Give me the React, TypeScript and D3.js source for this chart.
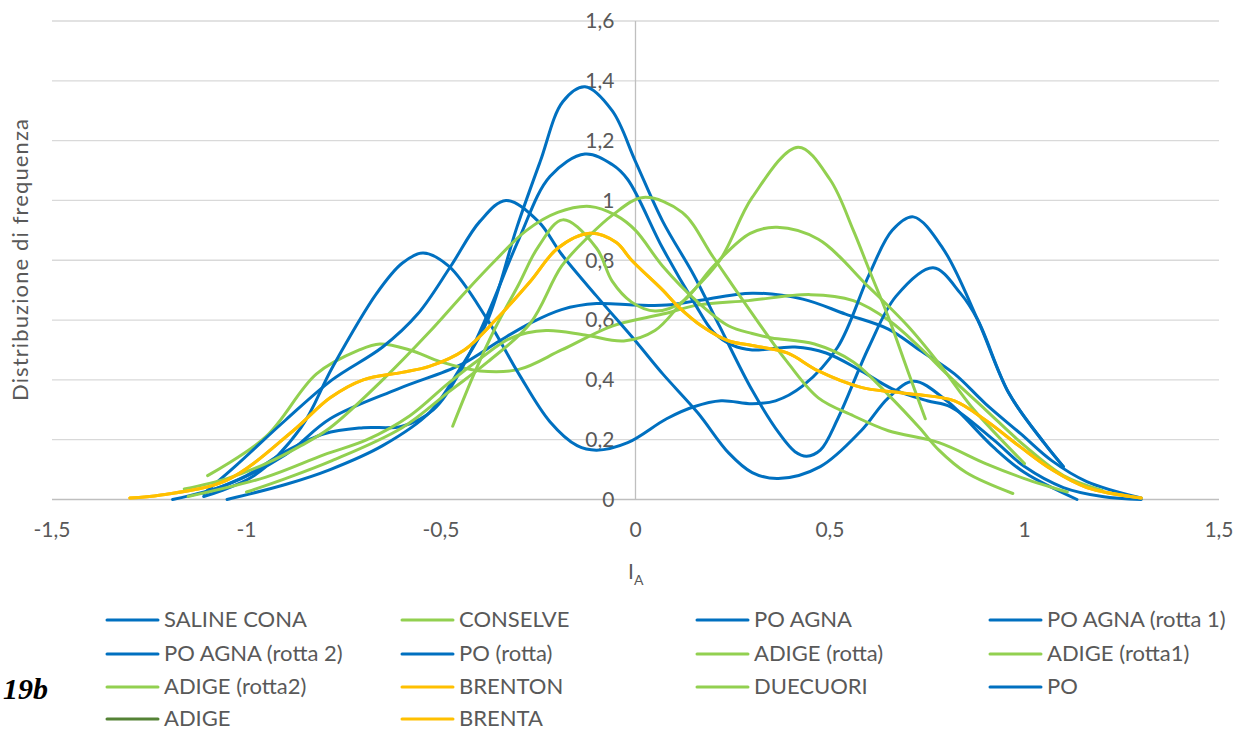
import { useEffect } from "react"
import * as d3 from "d3"

// [I_A, frequency] pairs
const salineCona: [number, number][] = [
  [-1.19, 0.0], [-1.05, 0.05], [-0.9, 0.15], [-0.785, 0.27], [-0.61, 0.37], [-0.45, 0.45], [-0.35, 0.53],
  [-0.27, 0.59], [-0.19, 0.635], [-0.1, 0.655], [0.0, 0.65], [0.08, 0.65], [0.16, 0.665], [0.3, 0.69],
  [0.43, 0.67], [0.54, 0.62], [0.65, 0.57], [0.73, 0.5], [0.82, 0.42], [0.9, 0.32], [0.99, 0.22],
  [1.07, 0.13], [1.16, 0.06], [1.3, 0.005],
]
const conselve: [number, number][] = [
  [-1.1, 0.08], [-0.95, 0.21], [-0.82, 0.42], [-0.71, 0.5], [-0.657, 0.52], [-0.58, 0.5], [-0.5, 0.46],
  [-0.4, 0.43], [-0.3, 0.435], [-0.19, 0.5], [-0.06, 0.58], [0.07, 0.62], [0.16, 0.65], [0.29, 0.665],
  [0.45, 0.685], [0.56, 0.665], [0.65, 0.6], [0.73, 0.51], [0.8, 0.42], [0.9, 0.3], [1.0, 0.18],
  [1.1, 0.08], [1.2, 0.03],
]
const poAgna: [number, number][] = [
  [-1.05, 0.0], [-0.9, 0.05], [-0.785, 0.1], [-0.65, 0.18], [-0.53, 0.29], [-0.45, 0.44], [-0.38, 0.6],
  [-0.305, 0.91], [-0.245, 1.13], [-0.187, 1.33], [-0.13, 1.38], [-0.06, 1.3], [0.0, 1.13], [0.07, 0.93],
  [0.15, 0.75], [0.217, 0.577], [0.3, 0.365], [0.37, 0.22], [0.41, 0.16], [0.44, 0.145], [0.475, 0.165],
  [0.52, 0.27], [0.6, 0.51], [0.67, 0.68], [0.765, 0.775], [0.835, 0.69], [0.88, 0.6], [0.96, 0.355],
  [1.05, 0.19], [1.1, 0.11],
]
const poAgnaRotta1: [number, number][] = [
  [-1.11, 0.02], [-1.0, 0.08], [-0.9, 0.16], [-0.8, 0.22], [-0.7, 0.24], [-0.6, 0.245], [-0.52, 0.3],
  [-0.45, 0.43], [-0.38, 0.62], [-0.3, 0.87], [-0.22, 1.08], [-0.13, 1.155], [-0.06, 1.12], [-0.02, 1.07],
  [0.07, 0.84], [0.15, 0.66], [0.2, 0.56], [0.25, 0.515], [0.3, 0.5], [0.41, 0.51], [0.49, 0.49],
  [0.58, 0.43], [0.66, 0.37], [0.75, 0.33], [0.81, 0.31], [0.92, 0.2], [1.0, 0.11], [1.1, 0.04],
  [1.2, 0.01], [1.3, 0.0],
]
const poAgnaRotta2: [number, number][] = [
  [-1.11, 0.02], [-1.03, 0.11], [-0.9, 0.265], [-0.78, 0.4], [-0.65, 0.51], [-0.56, 0.62], [-0.475, 0.78],
  [-0.4, 0.93], [-0.333, 1.0], [-0.25, 0.93], [-0.19, 0.82], [-0.1, 0.68], [0.0, 0.53], [0.07, 0.42],
  [0.16, 0.29], [0.24, 0.155], [0.3, 0.09], [0.367, 0.07], [0.475, 0.11], [0.58, 0.23], [0.65, 0.34],
  [0.715, 0.395], [0.8, 0.33], [0.92, 0.175], [1.0, 0.09], [1.135, 0.0],
]
const poRotta: [number, number][] = [
  [-1.11, 0.01], [-0.98, 0.08], [-0.86, 0.24], [-0.78, 0.44], [-0.665, 0.69], [-0.6, 0.79], [-0.546, 0.824],
  [-0.48, 0.78], [-0.38, 0.6], [-0.3, 0.42], [-0.22, 0.26], [-0.15, 0.18], [-0.1, 0.165], [-0.02, 0.19],
  [0.08, 0.27], [0.15, 0.31], [0.22, 0.33], [0.3, 0.32], [0.36, 0.33], [0.43, 0.38], [0.52, 0.51],
  [0.6, 0.75], [0.66, 0.9], [0.714, 0.945], [0.79, 0.84], [0.88, 0.6], [0.96, 0.355], [1.05, 0.19],
  [1.1, 0.11],
]
const adigeRotta: [number, number][] = [
  [-0.47, 0.245], [-0.415, 0.42], [-0.36, 0.575], [-0.3, 0.72], [-0.25, 0.845], [-0.187, 0.935],
  [-0.1, 0.84], [-0.06, 0.73], [-0.01, 0.66], [0.05, 0.63], [0.12, 0.66], [0.2, 0.78], [0.295, 0.89],
  [0.364, 0.91], [0.47, 0.87], [0.6, 0.71], [0.7, 0.58], [0.78, 0.455], [0.87, 0.3], [1.0, 0.12],
]
const adigeRotta1: [number, number][] = [
  [-1.15, 0.01], [-0.95, 0.075], [-0.8, 0.15], [-0.69, 0.2], [-0.58, 0.28], [-0.48, 0.39], [-0.4, 0.47],
  [-0.32, 0.54], [-0.23, 0.565], [-0.13, 0.55], [-0.03, 0.53], [0.05, 0.565], [0.12, 0.66], [0.217, 0.8],
  [0.3, 1.01], [0.418, 1.178], [0.5, 1.07], [0.56, 0.9], [0.6, 0.77], [0.65, 0.61], [0.7, 0.43],
  [0.745, 0.27],
]
const adigeRotta2: [number, number][] = [
  [-1.16, 0.035], [-1.05, 0.07], [-0.95, 0.12], [-0.86, 0.18], [-0.785, 0.24], [-0.65, 0.4], [-0.53, 0.56],
  [-0.44, 0.69], [-0.36, 0.8], [-0.28, 0.9], [-0.2, 0.96], [-0.117, 0.98], [-0.05, 0.95], [0.0, 0.9],
  [0.07, 0.78], [0.16, 0.66], [0.24, 0.58], [0.3, 0.555], [0.35, 0.54], [0.46, 0.52], [0.56, 0.46],
  [0.65, 0.35], [0.73, 0.24], [0.78, 0.165], [0.85, 0.09], [0.97, 0.02],
]
const brenton: [number, number][] = [
  [-1.3, 0.005], [-1.22, 0.015], [-1.05, 0.065], [-0.88, 0.23], [-0.785, 0.34], [-0.7, 0.4], [-0.6, 0.425],
  [-0.53, 0.445], [-0.44, 0.5], [-0.36, 0.6], [-0.27, 0.73], [-0.2, 0.84], [-0.117, 0.89], [-0.05, 0.86],
  [-0.01, 0.8], [0.07, 0.7], [0.11, 0.645], [0.17, 0.58], [0.24, 0.53], [0.3, 0.515], [0.39, 0.49],
  [0.47, 0.43], [0.58, 0.375], [0.66, 0.36], [0.73, 0.35], [0.82, 0.33], [0.9, 0.265], [0.99, 0.175],
  [1.07, 0.1], [1.16, 0.04], [1.3, 0.005],
]
const duecuori: [number, number][] = [
  [-1.0, 0.025], [-0.9, 0.07], [-0.78, 0.13], [-0.6, 0.24], [-0.48, 0.36], [-0.38, 0.46], [-0.27, 0.59],
  [-0.19, 0.78], [-0.12, 0.88], [-0.06, 0.95], [0.02, 1.01], [0.12, 0.96], [0.2, 0.81], [0.29, 0.64],
  [0.39, 0.46], [0.47, 0.34], [0.56, 0.28], [0.65, 0.23], [0.78, 0.19], [0.9, 0.12], [1.0, 0.07],
  [1.11, 0.025],
]
const po: [number, number][] = []
const adige: [number, number][] = []
const brenta = brenton

const seriesNames = [
  "SALINE CONA", "CONSELVE", "PO AGNA", "PO AGNA (rotta 1)",
  "PO AGNA (rotta 2)", "PO (rotta)", "ADIGE (rotta)", "ADIGE (rotta1)",
  "ADIGE (rotta2)", "BRENTON", "DUECUORI", "PO",
  "ADIGE", "BRENTA",
]
const seriesData = [
  salineCona, conselve, poAgna, poAgnaRotta1,
  poAgnaRotta2, poRotta, adigeRotta, adigeRotta1,
  adigeRotta2, brenton, duecuori, po,
  adige, brenta,
]

const xTicks = [-1.5, -1, -0.5, 0, 0.5, 1, 1.5]
const yTicks = [0, 0.2, 0.4, 0.6, 0.8, 1, 1.2, 1.4, 1.6]

const BLUE = "#0070C0"
const GREEN = "#92D050"
const YELLOW = "#FFC000"
const DARK_GREEN = "#548235"
const seriesColors = [
  BLUE, GREEN, BLUE, BLUE,
  BLUE, BLUE, GREEN, GREEN,
  GREEN, YELLOW, GREEN, BLUE,
  DARK_GREEN, YELLOW,
]

const W = 1239
const H = 730
const FONT = "Lato, 'Open Sans', sans-serif"
const TEXT = "#595959"

const fmt = (v: number) => String(v).replace(".", ",")

export default function App() {
  useEffect(() => {
    document.body.style.margin = "0"
  }, [])

  const x = d3.scaleLinear().domain([-1.5, 1.5]).range([52, 1219])
  const y = d3.scaleLinear().domain([0, 1.6]).range([499.5, 21])

  const line = d3
    .line<[number, number]>()
    .x((d) => x(d[0]))
    .y((d) => y(d[1]))
    .curve(d3.curveCatmullRom.alpha(0.5))

  const legendCols = [107, 402, 697, 990]
  const legendRows = [620, 654, 687, 719]

  return (
    <svg width={W} height={H} style={{ display: "block", background: "#fff" }} fontFamily={FONT}>
      {/* gridlines */}
      {yTicks.slice(1).map((t) => (
        <line key={t} x1={x(-1.5)} x2={x(1.5)} y1={y(t)} y2={y(t)} stroke="#d9d9d9" strokeWidth={1.3} />
      ))}
      {/* axes */}
      <line x1={x(-1.5)} x2={x(1.5)} y1={y(0)} y2={y(0)} stroke="#bfbfbf" strokeWidth={1.3} />
      <line x1={x(0)} x2={x(0)} y1={y(0)} y2={y(1.6)} stroke="#bfbfbf" strokeWidth={1.3} />

      {/* y tick labels sit next to the vertical axis */}
      {yTicks.map((t) => (
        <text key={t} x={x(0) - 21} y={y(t)} dy="0.35em" textAnchor="end" fontSize={21} fill={TEXT}>
          {fmt(t)}
        </text>
      ))}
      {xTicks.map((t) => (
        <text key={t} x={x(t)} y={537} textAnchor="middle" fontSize={21} fill={TEXT}>
          {fmt(t)}
        </text>
      ))}

      {/* series */}
      {seriesData.map((d, i) =>
        d.length ? (
          <path key={seriesNames[i]} d={line(d) || ""} fill="none" stroke={seriesColors[i]} strokeWidth={3} strokeLinecap="round" />
        ) : null
      )}

      {/* axis titles */}
      <text x={628} y={579} fontSize={21} fill={TEXT}>
        I<tspan fontSize={14} dy={6}>A</tspan>
      </text>
      <text
        transform="translate(28, 260) rotate(-90)"
        textAnchor="middle"
        fontSize={22}
        fill={TEXT}
        textLength={282}
        lengthAdjust="spacing"
      >
        Distribuzione di frequenza
      </text>

      {/* legend */}
      {seriesNames.map((name, i) => {
        const cx = legendCols[i % 4]
        const cy = legendRows[Math.floor(i / 4)]
        return (
          <g key={name}>
            <line x1={cx} x2={cx + 51} y1={cy} y2={cy} stroke={seriesColors[i]} strokeWidth={3} strokeLinecap="round" />
            <text x={cx + 57} y={cy} dy="0.33em" fontSize={22} fill={TEXT}>
              {name}
            </text>
          </g>
        )
      })}

      <text x={3} y={699} fontFamily="'Liberation Serif', 'Times New Roman', serif" fontWeight="bold" fontStyle="italic" fontSize={30} fill="#000">
        19b
      </text>
    </svg>
  )
}
